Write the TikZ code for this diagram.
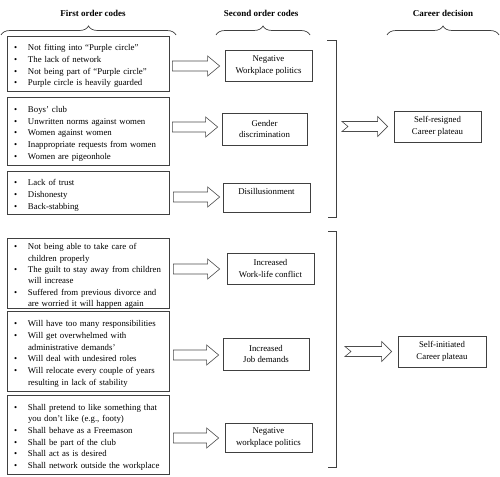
\documentclass[tikz,border=0pt]{standalone}
\usepackage{fontspec}
\setmainfont{Liberation Serif}
\usetikzlibrary{calc,decorations.pathreplacing}
\newcommand\itm[1]{\par\hangindent=15pt\hangafter=1\noindent\makebox[15pt][l]{\hspace{1pt}\textbullet}#1\par}
\newcommand\barrow[4]{% notch, start, end, head length
  \draw[arrowline] let \p1=#2, \p2=#3 in
   (\x1,\y1+5pt) -- (\x2-#4,\y1+5pt) -- (\x2-#4,\y1+10pt) -- (\x2,\y1) --
   (\x2-#4,\y1-10pt) -- (\x2-#4,\y1-5pt) -- (\x1,\y1-5pt) -- (\x1+#1,\y1) -- cycle;}
\begin{document}
\begin{tikzpicture}[x=1pt,y=-1pt,
  every node/.style={font=\fontsize{8.8}{11.7}\selectfont},
  line/.style={draw=black!75,line width=0.7pt},
  arrowline/.style={draw=black!70,line width=0.6pt,line join=miter},
  first/.style={line,rectangle,text width=150pt,inner xsep=6pt,inner ysep=0pt,align=left,minimum width=162pt},
  second/.style={line,rectangle,align=center,inner sep=1pt},
  head/.style={font=\fontsize{9}{11}\selectfont\bfseries},
  brc/.style={line,decorate,decoration={brace,amplitude=9pt,aspect=0.5}}]
\useasboundingbox (0,0) rectangle (500,476);
% headers
\node[head] (h1) at (93,13) {First order codes};
\node[head] (h2) at (261,13) {Second order codes};
\node[head] (h3) at (443,13) {Career decision};
% braces
\draw[brc] (1,35) -- (176,35);
\draw[brc] (216,35) -- (310,35);
\draw[brc] (387,35) -- (499,35);
% first order boxes
\node[first,minimum height=55pt] (f1) at (88,63.5) {%
 \itm{Not fitting into “Purple circle”}
 \itm{The lack of network}
 \itm{Not being part of “Purple circle”}
 \itm{Purple circle is heavily guarded}};
\node[first,minimum height=68pt] (f2) at (88,131) {%
 \itm{Boys’ club}
 \itm{Unwritten norms against women}
 \itm{Women against women}
 \itm{Inappropriate requests from women}
 \itm{Women are pigeonhole}};
\node[first,minimum height=43pt] (f3) at (88,192.5) {%
 \itm{Lack of trust}
 \itm{Dishonesty}
 \itm{Back-stabbing}};
\node[first,minimum height=69pt,font=\fontsize{8.8}{11.3}\selectfont] (f4) at (88,273.5) {%
 \itm{Not being able to take care of\newline children properly}
 \itm{The guilt to stay away from children\newline will increase}
 \itm{Suffered from previous divorce and\newline are worried it will happen again}};
\node[first,minimum height=80pt] (f5) at (88,351) {%
 \itm{Will have too many responsibilities}
 \itm{Will get overwhelmed with\newline administrative demands’}
 \itm{Will deal with undesired roles}
 \itm{Will relocate every couple of years\newline resulting in lack of stability}};
\node[first,minimum height=79pt] (f6) at (88,434.5) {%
 \itm{Shall pretend to like something that\newline you don’t like (e.g., footy)}
 \itm{Shall behave as a Freemason}
 \itm{Shall be part of the club}
 \itm{Shall act as is desired}
 \itm{Shall network outside the workplace}};
% second order boxes
\node[second,minimum width=87pt,minimum height=31pt] (s1) at (268.5,65.5) {Negative\\Workplace politics};
\node[second,minimum width=85pt,minimum height=32pt] (s2) at (264.5,129) {Gender\\discrimination};
\node[second,minimum width=87pt,minimum height=29pt] (s3) at (266.5,197.5) {Disillusionment\\\mbox{}};
\node[second,minimum width=87pt,minimum height=31pt] (s4) at (270.5,268.5) {Increased\\Work-life conflict};
\node[second,minimum width=86pt,minimum height=32pt] (s5) at (266,354) {Increased\\Job demands};
\node[second,minimum width=87pt,minimum height=29pt] (s6) at (268.5,437.5) {Negative\\workplace politics};
% career boxes
\node[second,minimum width=87pt,minimum height=31pt] (c1) at (437.5,126.5) {Self-resigned\\Career plateau};
\node[second,minimum width=88pt,minimum height=31pt] (c2) at (442,351.5) {Self-initiated\\Career plateau};
% block arrows first -> second
\barrow{0pt}{([xshift=3pt]f1.east |- 0,66)}{([xshift=-5pt]s1.west |- 0,66)}{12pt}
\barrow{0pt}{([xshift=3pt]f2.east |- 0,127)}{([xshift=-4pt]s2.west |- 0,127)}{12pt}
\barrow{0pt}{([xshift=4pt]f3.east |- 0,197)}{([xshift=-3pt]s3.west |- 0,197)}{12pt}
\barrow{0pt}{([xshift=4pt]f4.east |- 0,269)}{([xshift=-7pt]s4.west |- 0,269)}{12pt}
\barrow{0pt}{([xshift=4pt]f5.east |- 0,355)}{([xshift=-4pt]s5.west |- 0,355)}{12pt}
\barrow{0pt}{([xshift=4pt]f6.east |- 0,438)}{([xshift=-6pt]s6.west |- 0,438)}{12pt}
% brackets
\coordinate (b1t) at (336,40);
\coordinate (b1b) at (336,217);
\coordinate (b2t) at (336,231);
\coordinate (b2b) at (336,467);
\draw[line] ([xshift=-9pt]b1t) -- (b1t) -- (b1b) -- ([xshift=-8pt]b1b);
\draw[line] ([xshift=-8pt]b2t) -- (b2t) -- (b2b) -- ([xshift=-8pt]b2b);
% big arrows
\barrow{6pt}{([xshift=6pt]b1t |- c1.west)}{([xshift=-6pt]c1.west)}{10pt}
\barrow{6pt}{([xshift=9pt]b2t |- c2.west)}{([xshift=-6pt]c2.west)}{10pt}
\end{tikzpicture}
\end{document}
